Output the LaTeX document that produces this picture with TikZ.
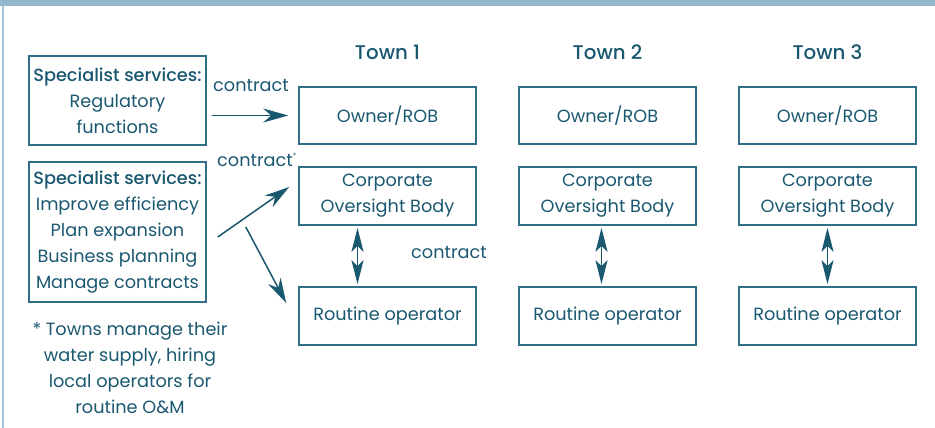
\documentclass[tikz,border=0pt]{standalone}
\usepackage{fontspec}
\setmainfont{Poppins}[BoldFont=Poppins Medium]
\usetikzlibrary{arrows.meta,calc}
\definecolor{ink}{HTML}{1A5870}
\definecolor{edge}{HTML}{2E6F87}
\definecolor{band}{HTML}{93B7CC}
\definecolor{rule}{HTML}{A8C6D9}
\tikzset{
  bighead/.tip={Stealth[length=25pt,width=14pt,inset=8pt]},
  dblhead/.tip={Stealth[length=24pt,width=12pt,inset=6pt]}
}
\begin{document}
\begin{tikzpicture}[x=1pt,y=-1pt,
  every node/.style={text=ink,font=\fontsize{17.7}{26}\selectfont,inner sep=0pt},
  box/.style={draw=edge,line width=1.6pt,minimum width=177pt,minimum height=57pt,align=center},
  spec/.style={draw=edge,line width=1.6pt,minimum width=177pt,align=center},
  townlbl/.style={font=\fontsize{19.8}{22}\selectfont\bfseries},
  arr/.style={draw=ink,fill=ink,line width=1.5pt,-bighead},
  dbl/.style={draw=ink,fill=ink,line width=1.2pt,dblhead-dblhead}
]
\useasboundingbox (0,0) rectangle (935,428);
% frame decoration
\fill[band] (0,0) rectangle (935,6);
\draw[rule,line width=2pt] (2.5,6) -- (2.5,428);

% specialist service providers
\node[spec,minimum height=89pt] (spec1) at (117.5,100.5)
  {\textbf{Specialist services:}\\Regulatory\\functions};
\node[spec,minimum height=140pt] (spec2) at (117.5,232)
  {\textbf{Specialist services:}\\Improve efficiency\\Plan expansion\\Business planning\\Manage contracts};
\node[align=center] (note) at (130,368)
  {* Towns manage their\\water supply, hiring\\local operators for\\routine O\&M};

% town columns
\foreach \i/\x/\dx in {1/387.5/-30,2/607.5/-6,3/827.5/0}{
  \node[townlbl] (town\i) at (\x,52) {Town \i};
  \node[box] (own\i) at (\x,115.5) {Owner/ROB};
  \node[box,minimum height=58pt] (corp\i) at (\x,196) {Corporate\\Oversight Body};
  \node[box,minimum height=58pt] (op\i) at (\x,316) {Routine operator};
  \draw[dbl] ($(corp\i.south)+(\dx,2)$) -- ($(op\i.north)+(\dx,-2)$);
}

% contracts with the specialists
\draw[arr] ($(spec1.east |- own1.west)+(5,0)$) -- ($(own1.west)+(-10,0)$);
\draw[arr] ($(spec2.east)+(11,5)$) -- ($(corp1.west)+(-9,-9)$);
\draw[arr] ($(spec2.east)+(39,-5)$) -- ($(op1.west)+(-12,-13)$);

\node (c1) at (251,86) {contract};
\node (c2) at (255,160) {contract\rlap{\raisebox{0.9ex}{\fontsize{7}{7}\selectfont*}}};
\node (c3) at (449,253) {contract};
\end{tikzpicture}
\end{document}
